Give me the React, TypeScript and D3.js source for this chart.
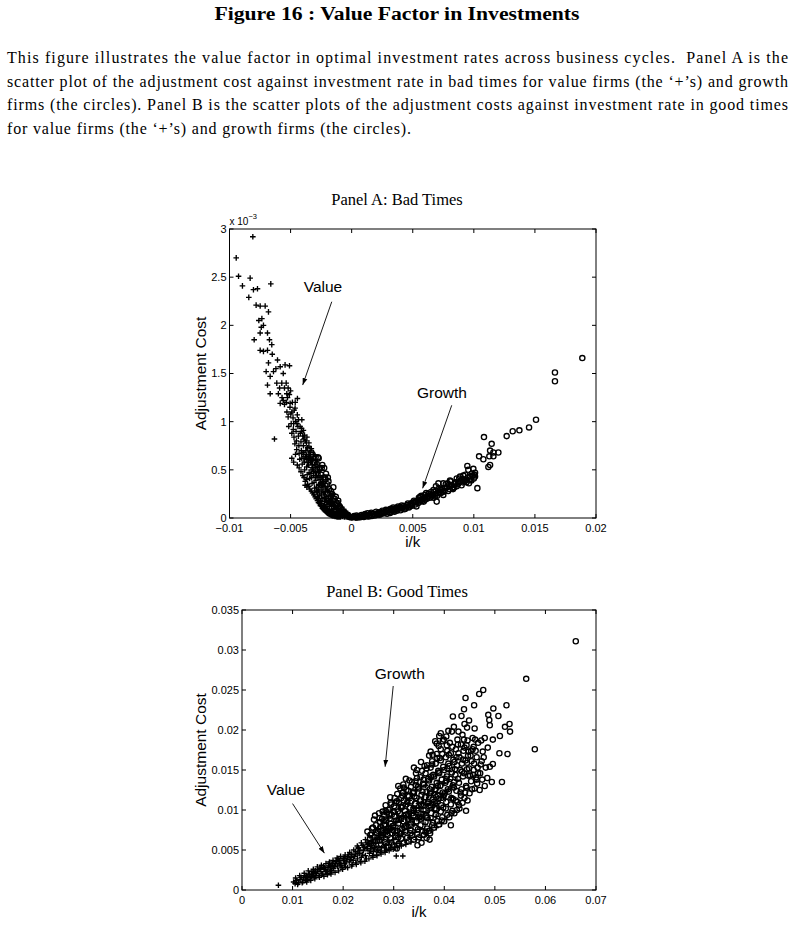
import * as d3 from 'd3';

type Pt = [number, number];

// Panel A (bad times): i/k and adjustment cost, both in units of 1e-3
const valueBad: Pt[] = [
  [-9.45, 2.7], [-8.09, 2.92], [-9.26, 2.51], [-8.94, 2.41], [-8.31, 2.49], [-8.04, 2.37], [-8.42, 2.29], [-7.71, 2.38],
  [-6.62, 2.43], [-7.82, 2.21], [-7.49, 2.2], [-7.08, 2.2], [-6.81, 2.14], [-7.35, 2.07], [-7.22, 2.0], [-7.49, 1.92],
  [-7.98, 1.85], [-6.89, 1.92], [-6.73, 1.85], [-6.54, 1.8], [-7.49, 1.74], [-7.22, 1.73], [-6.89, 1.74], [-6.81, 1.61],
  [-6.07, 1.64], [-5.85, 1.57], [-5.45, 1.59], [-5.09, 1.58], [-7.0, 1.52], [-6.67, 1.47], [-6.4, 1.52], [-6.89, 1.38],
  [-6.13, 1.4], [-5.72, 1.4], [-5.36, 1.4], [-6.67, 1.29], [-6.0, 1.29], [-5.31, 1.29], [-4.44, 1.24], [-5.85, 1.19],
  [-5.04, 1.19], [-6.32, 0.82], [-4.63, 1.14], [-4.08, 1.02], [-3.95, 0.91], [-3.81, 0.34], [-3.67, 0.32],
  [-7.6, 2.05], [-7.4, 1.98], [-6.5, 1.7], [-6.2, 1.55], [-5.6, 1.5], [-5.5, 1.35], [-5.2, 1.35], [-5.6, 1.22], [-5.3, 1.1],
  [-5.2, 1.05], [-5.15, 0.95], [-5.05, 1.15], [-4.98, 1.08], [-4.95, 0.98], [-4.9, 0.88], [-4.85, 1.2], [-4.8, 1.04],
  [-4.78, 0.92], [-4.72, 0.84], [-4.7, 1.12], [-4.65, 0.77], [-4.6, 1.0], [-4.55, 0.9], [-4.52, 0.8], [-4.5, 0.71],
  [-4.45, 1.07], [-4.4, 0.95], [-4.36, 0.85], [-4.32, 0.75], [-4.3, 0.67], [-4.25, 0.61], [-4.2, 0.88], [-4.15, 0.79],
  [-4.12, 0.7], [-4.08, 0.62], [-4.05, 0.56], [-4.0, 0.85], [-3.95, 0.75], [-3.92, 0.66], [-3.88, 0.58], [-3.85, 0.5],
  [-3.8, 0.8], [-3.75, 0.7], [-3.72, 0.61], [-3.68, 0.53], [-3.64, 0.45], [-3.6, 0.73], [-3.56, 0.64], [-3.52, 0.55],
  [-3.48, 0.47], [-3.44, 0.41], [-3.4, 0.68], [-3.36, 0.58], [-3.32, 0.5], [-3.28, 0.42], [-3.24, 0.36], [-3.2, 0.61],
  [-3.16, 0.52], [-3.12, 0.44], [-3.08, 0.37], [-3.04, 0.31], [-3.0, 0.55], [-2.96, 0.47], [-2.92, 0.39], [-2.88, 0.32],
  [-2.84, 0.27], [-2.8, 0.5], [-2.75, 0.42], [-2.7, 0.35], [-2.66, 0.28], [-2.62, 0.23], [-2.58, 0.44], [-2.54, 0.37],
  [-2.5, 0.3], [-2.46, 0.24], [-2.42, 0.2], [-2.38, 0.38], [-2.34, 0.32], [-2.3, 0.26], [-2.26, 0.21], [-2.22, 0.17],
  [-2.18, 0.33], [-2.14, 0.27], [-2.1, 0.22], [-2.06, 0.18], [-2.02, 0.14], [-1.98, 0.28], [-1.94, 0.23], [-1.9, 0.18],
  [-1.86, 0.15], [-1.82, 0.12], [-1.76, 0.24], [-1.72, 0.19], [-1.68, 0.15], [-1.64, 0.12], [-1.56, 0.2], [-1.52, 0.16],
  [-1.48, 0.12], [-1.44, 0.09], [-1.36, 0.16], [-1.32, 0.12], [-1.28, 0.09], [-1.24, 0.07], [-1.16, 0.12], [-1.12, 0.09],
  [-1.08, 0.07], [-1.04, 0.05], [-0.96, 0.09], [-0.92, 0.07], [-0.88, 0.05], [-0.84, 0.03], [-0.76, 0.07], [-0.72, 0.05],
  [-0.68, 0.03], [-0.56, 0.05], [-0.52, 0.03], [-0.48, 0.02], [-0.38, 0.03], [-0.34, 0.015], [-0.2, 0.015], [-0.16, 0.005],
  [0.0, 0.005],
  [-5.9, 1.35], [-5.7, 1.25], [-5.5, 1.18], [-5.35, 1.2], [-5.25, 1.25], [-5.1, 1.28], [-5.0, 1.32], [-4.9, 1.1],
  [-4.75, 0.98], [-4.62, 1.2], [-4.48, 0.98], [-4.35, 1.02], [-4.22, 0.95], [-4.1, 0.93], [-3.98, 0.68], [-3.86, 0.86],
  [-3.7, 0.78], [-3.58, 0.58], [-3.46, 0.62], [-3.34, 0.46], [-3.22, 0.55], [-3.1, 0.48], [-2.98, 0.42], [-2.86, 0.44],
  [-2.74, 0.3], [-2.6, 0.34], [-2.48, 0.26], [-2.36, 0.28], [-2.24, 0.24], [-2.12, 0.2], [-2.0, 0.16], [-1.88, 0.2],
  [-1.74, 0.14], [-1.62, 0.17], [-1.5, 0.1], [-1.38, 0.13], [-1.26, 0.1], [-1.14, 0.06], [-1.0, 0.07], [-0.9, 0.04],
  [-0.8, 0.06], [-0.64, 0.04], [-0.44, 0.035], [-0.28, 0.02], [-0.1, 0.008],
  [-4.9, 0.62], [-4.75, 0.58], [-4.6, 0.66], [-4.45, 0.55], [-4.3, 0.52], [-4.15, 0.48], [-4.0, 0.44], [-3.9, 0.42],
  [-3.8, 0.38], [-3.7, 0.4], [-3.6, 0.35], [-3.5, 0.33], [-3.42, 0.3], [-3.3, 0.28], [-3.2, 0.26], [-3.1, 0.24],
  [-3.0, 0.22], [-2.9, 0.2], [-2.8, 0.18], [-2.72, 0.16], [-2.64, 0.15], [-2.56, 0.13], [-2.48, 0.12], [-2.4, 0.1],
  [-2.32, 0.09], [-2.24, 0.08], [-2.16, 0.07], [-2.08, 0.06], [-2.0, 0.05], [-1.92, 0.045], [-1.84, 0.04], [-1.76, 0.035],
  [-1.68, 0.03], [-1.6, 0.025], [-1.52, 0.02], [-1.44, 0.02], [-1.36, 0.015], [-1.28, 0.015], [-1.2, 0.01], [-1.1, 0.01],
  [-1.0, 0.01], [-0.9, 0.012],
  [-2.9, 0.28], [-2.78, 0.24], [-2.68, 0.2], [-2.55, 0.18], [-2.44, 0.15], [-2.32, 0.13], [-2.2, 0.11], [-2.1, 0.1],
  [-1.96, 0.09], [-1.84, 0.08], [-1.72, 0.07], [-1.6, 0.06], [-1.48, 0.05], [-1.36, 0.045], [-1.24, 0.04], [-1.12, 0.03],
  [-1.0, 0.025], [-0.86, 0.02], [-0.74, 0.015], [-0.6, 0.012], [-0.46, 0.01], [-2.6, 0.4], [-2.45, 0.34], [-2.3, 0.36],
  [-2.15, 0.3], [-1.95, 0.33], [-1.8, 0.27], [-1.65, 0.23], [-1.5, 0.25], [-1.35, 0.2], [-1.2, 0.18], [-1.05, 0.15],
  [-0.95, 0.13], [-0.8, 0.11], [-0.65, 0.09], [-0.5, 0.07], [-0.35, 0.05], [-0.25, 0.035],
  [-4.1, 0.9], [-3.9, 0.82], [-3.66, 0.84], [-3.5, 0.78], [-3.3, 0.72], [-3.14, 0.66], [-2.98, 0.6], [-2.82, 0.56],
  [-2.68, 0.48],
];

const growthBad: Pt[] = [
  [-3.1, 0.58], [-2.95, 0.63], [-2.7, 0.62], [-2.25, 0.52], [-2.5, 0.45], [-2.8, 0.5], [-2.0, 0.35], [-1.85, 0.3],
  [-1.7, 0.28], [-1.4, 0.2], [-1.2, 0.15], [-1.0, 0.12], [-0.8, 0.08], [-0.6, 0.06], [-0.3, 0.03], [-3.3, 0.68],
  [-3.5, 0.72], [-2.4, 0.55],
  [-3.7, 0.6], [-3.4, 0.55], [-3.2, 0.66], [-3.0, 0.5], [-2.6, 0.52], [-2.3, 0.42], [-2.1, 0.46], [-1.9, 0.38],
  [-1.6, 0.25], [-1.5, 0.32], [-1.3, 0.22], [-1.1, 0.18], [-0.9, 0.1], [-0.5, 0.04], [-0.2, 0.01],
  [-3.9, 0.66], [-3.6, 0.63], [-3.35, 0.6], [-2.85, 0.56], [-2.76, 0.63], [-2.45, 0.52], [-2.18, 0.42], [-2.15, 0.4],
  [-1.95, 0.42],
  [0.0, 0.005], [0.3, 0.01], [0.6, 0.015], [0.5, 0.005], [0.9, 0.02], [1.0, 0.01], [1.2, 0.03], [1.5, 0.035],
  [1.4, 0.015], [1.8, 0.04], [1.9, 0.025], [2.1, 0.05], [2.4, 0.055], [2.3, 0.035], [2.7, 0.06], [2.9, 0.045],
  [3.0, 0.07], [3.3, 0.08], [3.5, 0.065], [3.6, 0.09], [3.9, 0.1], [4.0, 0.08], [4.2, 0.11], [4.5, 0.12],
  [4.4, 0.095], [4.8, 0.13], [4.6, 0.15], [5.0, 0.16], [5.2, 0.14], [5.4, 0.18], [5.6, 0.17], [5.8, 0.2],
  [5.5, 0.21], [6.0, 0.19], [6.2, 0.22], [6.4, 0.21], [6.6, 0.24], [6.5, 0.27], [6.8, 0.25], [7.0, 0.23],
  [7.2, 0.27], [7.4, 0.3], [7.3, 0.26], [7.6, 0.28], [7.8, 0.32], [8.0, 0.3], [8.2, 0.34], [8.4, 0.32],
  [8.5, 0.37], [8.7, 0.35], [8.9, 0.38], [9.0, 0.34], [9.2, 0.4], [9.4, 0.37], [9.5, 0.42], [9.7, 0.4],
  [9.9, 0.44], [10.0, 0.41], [10.1, 0.47], [9.3, 0.45], [8.8, 0.41], [8.1, 0.38], [7.7, 0.35], [6.9, 0.33],
  [5.7, 0.23], [6.3, 0.25],
  [0.2, 0.02], [0.8, 0.03], [1.1, 0.04], [1.6, 0.055], [2.0, 0.065], [2.2, 0.04], [2.5, 0.075], [2.8, 0.085],
  [3.1, 0.06], [3.2, 0.095], [3.4, 0.11], [3.7, 0.075], [3.8, 0.12], [4.1, 0.13], [4.3, 0.09], [4.7, 0.11],
  [4.9, 0.14], [5.1, 0.18], [5.3, 0.12], [5.9, 0.17], [6.1, 0.26], [6.7, 0.21], [7.1, 0.3], [7.5, 0.24],
  [7.9, 0.28], [8.3, 0.3], [8.6, 0.33], [9.1, 0.37], [9.6, 0.36], [9.8, 0.39], [10.05, 0.45], [1.3, 0.05], [0.4, 0.025],
  [0.1, 0.01], [0.35, 0.004], [0.7, 0.008], [0.85, 0.012], [1.05, 0.025], [1.25, 0.018], [1.45, 0.028], [1.65, 0.022],
  [1.7, 0.045], [2.05, 0.035], [2.25, 0.06], [2.45, 0.045], [2.6, 0.068], [2.65, 0.05], [2.85, 0.072], [3.05, 0.085],
  [3.15, 0.052], [3.35, 0.095], [3.45, 0.075], [3.65, 0.105], [3.75, 0.088], [3.95, 0.115], [4.05, 0.1], [4.25, 0.125],
  [4.35, 0.108], [4.55, 0.135], [4.65, 0.118], [4.85, 0.15], [4.95, 0.128], [5.15, 0.16], [5.25, 0.17], [5.45, 0.155],
  [5.65, 0.19], [5.75, 0.175], [5.95, 0.21], [6.15, 0.2], [6.35, 0.23], [6.55, 0.22], [6.75, 0.27], [6.85, 0.23],
  [7.05, 0.26], [7.25, 0.29], [7.45, 0.27], [7.65, 0.31], [7.95, 0.34], [8.25, 0.31], [8.45, 0.35], [8.75, 0.37],
  [9.05, 0.4], [9.35, 0.39],
  [18.88, 1.66], [16.64, 1.51], [16.64, 1.42], [15.09, 1.02], [14.52, 0.94], [13.73, 0.91], [13.18, 0.9], [12.69, 0.85],
  [12.01, 0.68], [11.46, 0.77], [11.33, 0.7], [11.27, 0.64], [11.6, 0.64], [11.19, 0.53], [11.33, 0.55], [10.83, 0.84],
  [10.43, 0.64], [10.78, 0.61], [10.29, 0.31], [11.6, 0.68], [9.96, 0.51], [9.47, 0.54], [9.55, 0.5], [9.83, 0.46],
  [10.1, 0.43], [9.69, 0.43], [9.14, 0.44], [8.87, 0.43], [8.6, 0.41], [7.86, 0.36], [8.05, 0.39], [7.1, 0.36],
  [7.5, 0.36], [6.96, 0.17], [6.69, 0.29], [6.28, 0.25], [6.0, 0.24], [5.6, 0.22],
];

// Panel B (good times): i/k and adjustment cost in units of 1e-3
const valueGood: Pt[] = [
  [7.2, 0.6], [10.2, 1.0], [10.5, 0.8], [10.8, 1.2], [11.2, 0.9], [12.0, 1.0], [11.5, 1.3], [12.2, 1.5], [12.6, 1.2],
  [13.0, 1.6], [13.5, 1.4], [13.8, 2.3], [14.0, 1.9], [14.3, 1.6], [14.8, 2.1], [15.0, 2.6], [15.2, 1.8], [15.6, 2.3],
  [16.0, 2.0], [16.3, 2.6], [16.7, 2.3], [17.0, 2.8], [17.2, 3.3], [17.4, 2.5], [17.8, 3.1], [18.1, 2.7], [18.5, 3.3],
  [18.9, 2.9], [19.0, 3.9], [19.2, 3.5], [19.6, 3.1], [20.0, 3.7], [20.3, 3.3], [20.5, 2.9], [20.8, 3.9], [21.0, 4.4],
  [21.2, 3.5], [21.6, 4.1], [22.0, 3.7], [22.4, 4.4], [22.5, 3.4], [22.8, 3.9], [23.0, 5.2], [23.2, 4.6], [23.6, 4.1],
  [24.0, 4.9], [24.4, 4.3], [24.6, 3.9], [24.8, 5.2], [25.0, 5.8], [25.2, 4.6], [25.6, 5.5], [26.0, 4.8], [26.4, 5.9],
  [26.6, 4.4], [26.8, 5.0], [27.0, 6.9], [27.2, 6.3], [27.6, 5.3], [28.0, 6.8], [28.4, 5.6], [28.6, 5.0], [28.8, 7.2],
  [29.0, 8.0], [29.2, 6.0], [29.6, 7.6], [30.0, 6.3], [30.5, 4.25], [31.8, 4.25], [30.4, 8.1], [31.0, 6.8], [31.5, 8.6],
  [32.0, 7.2], [32.5, 9.1], [33.0, 7.7], [33.5, 9.6], [34.0, 8.2], [34.5, 10.2], [35.0, 8.8], [35.5, 10.8], [36.0, 9.4],
  [36.5, 11.3], [37.0, 10.0], [37.5, 11.8], [38.0, 10.6], [38.6, 12.2], [39.2, 11.2],
  [11.7, 1.6], [12.4, 1.8], [12.9, 1.3], [13.3, 2.0], [13.7, 1.7], [14.5, 2.4], [14.6, 1.8], [15.4, 2.7], [15.8, 2.0],
  [16.1, 2.9], [16.5, 2.5], [16.9, 2.1], [17.5, 2.9], [17.7, 2.4], [18.3, 3.0], [18.7, 3.6], [19.4, 3.3], [19.8, 2.8],
  [20.2, 4.0], [20.6, 3.5], [21.4, 3.8], [21.8, 3.2], [22.2, 4.2], [22.9, 4.6], [23.4, 3.6], [23.8, 4.4], [24.2, 5.3],
  [25.4, 5.0], [25.8, 4.3], [26.2, 5.3], [27.4, 4.7], [27.8, 5.9], [28.2, 4.9], [29.4, 5.3], [29.8, 6.8], [30.2, 5.4],
  [30.8, 7.5], [31.2, 5.8], [31.6, 7.0], [32.2, 6.2], [32.8, 8.2], [33.2, 6.6], [33.8, 8.8], [34.2, 7.2], [34.8, 9.4],
  [35.2, 7.6], [35.8, 9.8], [36.2, 8.2], [36.8, 10.6], [37.2, 8.8], [37.8, 11.0], [38.4, 9.2], [39.0, 10.2], [39.6, 12.0],
  [40.2, 11.4], [40.8, 12.6], [41.4, 11.6],
  [10.6, 1.5], [11.0, 0.7], [11.4, 1.8], [11.9, 0.9], [12.3, 2.1], [12.8, 1.0], [13.1, 2.4], [13.6, 1.2], [14.1, 2.6],
  [14.4, 1.4], [14.9, 2.9], [15.3, 1.6], [15.7, 3.1], [16.2, 1.7], [16.6, 3.3], [16.9, 1.9], [17.3, 3.5], [17.6, 2.0],
  [18.0, 3.7], [18.4, 2.2], [18.8, 4.0], [19.1, 2.4], [19.5, 4.2], [19.9, 2.6], [20.4, 4.4], [20.9, 2.8], [21.3, 4.7],
  [21.7, 3.0], [22.1, 5.0], [22.6, 3.2], [23.0, 5.3], [23.5, 3.4], [23.9, 5.6], [24.3, 3.6], [24.7, 5.9], [25.1, 3.9],
  [25.5, 6.2], [25.9, 4.1], [26.3, 6.5], [26.7, 4.3], [27.1, 6.8], [27.5, 4.5], [27.9, 7.2], [28.3, 4.7], [28.7, 7.6],
  [29.1, 4.9], [29.5, 8.0], [29.9, 5.1], [30.3, 8.5], [30.7, 5.3], [31.1, 8.9], [31.5, 5.5], [31.9, 9.3], [32.4, 5.7],
  [32.9, 9.8], [33.4, 6.0], [33.9, 10.3], [34.4, 6.3], [34.9, 10.8], [35.4, 6.6], [35.9, 11.3], [36.4, 7.0], [36.9, 11.8],
  [37.4, 7.4], [37.9, 12.3], [38.4, 7.8], [38.9, 12.8], [39.4, 8.3], [39.9, 13.3], [40.4, 8.8], [40.9, 13.8],
  [12.7, 1.7], [13.4, 1.9], [14.2, 2.2], [14.9, 2.4], [15.6, 2.6], [16.3, 2.8], [17.1, 3.0], [17.9, 3.3], [18.6, 3.5],
  [19.3, 3.7], [20.1, 3.9], [20.9, 4.2], [21.7, 4.5], [22.5, 4.8], [23.3, 5.0], [24.1, 5.4], [24.9, 5.7], [25.7, 6.0],
  [26.5, 6.3], [27.3, 6.6], [28.1, 7.0], [28.9, 7.4],
  [29.0, 9.0], [29.7, 10.0], [30.3, 7.2], [30.6, 9.5], [31.3, 10.2], [31.8, 7.9], [32.3, 10.8], [32.6, 8.4], [33.1, 11.2],
  [33.4, 9.0], [33.7, 11.8], [34.0, 9.7], [34.3, 12.4], [34.6, 8.9], [35.0, 10.3], [35.3, 12.9], [35.6, 9.0], [35.9, 10.9],
  [36.3, 13.1], [36.6, 9.7], [36.9, 12.0], [37.3, 13.8], [37.6, 10.3], [38.0, 12.8], [38.3, 14.4], [38.7, 10.8], [39.0, 13.5],
  [39.4, 15.0], [39.8, 11.6], [40.1, 14.2], [40.5, 12.3], [41.0, 14.8], [41.5, 13.0], [42.0, 15.3], [42.5, 13.7], [26.8, 7.6],
  [27.4, 8.0], [28.0, 7.8], [28.6, 8.4], [25.2, 6.8], [26.0, 7.2], [24.4, 6.3], [23.6, 5.9], [22.8, 5.5],
];

const growthGood: Pt[] = [
  [25.0, 5.2], [25.3, 6.4], [24.8, 7.3], [25.7, 7.7], [26.0, 5.5], [26.2, 6.6], [25.9, 7.8], [26.1, 8.8],
  [27.0, 5.2], [27.2, 6.2], [26.9, 7.4], [27.3, 8.5], [27.8, 9.8], [28.0, 5.0], [28.2, 6.0], [27.9, 7.1],
  [28.3, 8.2], [28.1, 9.4], [29.0, 5.4], [29.3, 6.5], [28.8, 7.7], [29.2, 8.9], [29.0, 10.0], [30.0, 5.6],
  [30.3, 6.8], [29.8, 8.0], [30.2, 9.2], [30.1, 10.5], [30.2, 11.5], [31.0, 5.8], [31.3, 7.0], [30.9, 8.3],
  [31.2, 9.6], [31.0, 10.9], [31.3, 12.7], [32.0, 12.8], [32.0, 5.9], [32.3, 7.3], [31.9, 8.6], [32.2, 9.9],
  [32.0, 11.2], [32.5, 12.5], [33.0, 6.1], [33.3, 7.5], [32.9, 8.9], [33.2, 10.3], [33.0, 11.7], [33.4, 12.9],
  [34.0, 6.3], [34.3, 7.8], [33.9, 9.3], [34.2, 10.8], [34.0, 12.2], [34.3, 13.6], [34.4, 14.6], [35.0, 6.6],
  [35.3, 8.1], [34.9, 9.6], [35.2, 11.2], [35.0, 12.7], [35.3, 14.1], [34.7, 5.6], [36.0, 6.9], [36.3, 8.5],
  [35.9, 10.0], [36.2, 11.6], [36.0, 13.2], [36.3, 14.6], [36.5, 15.2], [37.1, 6.3], [37.0, 7.4], [37.3, 9.0],
  [36.9, 10.5], [37.2, 12.1], [37.0, 13.7], [37.3, 15.3], [37.3, 17.3], [38.0, 7.8], [38.3, 9.4], [37.9, 11.0],
  [38.2, 12.6], [38.0, 14.2], [38.3, 15.8], [38.5, 17.0], [39.0, 8.2], [39.3, 9.8], [38.9, 11.4], [39.2, 13.0],
  [39.0, 14.6], [39.3, 16.2], [38.9, 18.0], [39.3, 19.6], [39.0, 19.25], [40.0, 8.6], [40.3, 10.2], [39.9, 11.8],
  [40.2, 13.4], [40.0, 15.0], [40.3, 16.6], [40.5, 18.1], [41.0, 9.1], [41.3, 10.7], [40.9, 12.3], [41.2, 13.9],
  [41.0, 15.5], [41.3, 17.1], [41.3, 8.1], [41.7, 21.7], [42.0, 9.6], [42.3, 11.2], [41.9, 12.8], [42.2, 14.4],
  [42.0, 16.0], [42.3, 17.6], [42.5, 10.0], [43.0, 10.2], [43.3, 11.8], [42.9, 13.4], [43.2, 15.0], [43.0, 16.6],
  [43.3, 18.2], [43.4, 21.75], [44.0, 11.5], [44.3, 13.0], [43.9, 14.6], [44.2, 16.2], [44.0, 17.8], [44.3, 9.9],
  [44.2, 24.0], [44.0, 20.75], [44.4, 18.1], [45.0, 12.1], [45.3, 13.6], [44.9, 15.2], [45.2, 16.8], [45.6, 19.0],
  [46.0, 12.7], [46.3, 14.1], [45.9, 15.8], [46.2, 17.4], [45.9, 23.1], [45.8, 17.9], [46.9, 24.5], [47.0, 12.5],
  [47.1, 14.6], [47.7, 25.0], [48.0, 13.0], [48.2, 15.3], [48.0, 19.0], [46.7, 14.6],
  [25.5, 5.8], [25.4, 6.9], [26.6, 5.1], [26.4, 6.1], [26.7, 7.1], [26.5, 8.1], [27.5, 5.7], [27.6, 6.6],
  [27.4, 7.9], [27.7, 8.9], [28.6, 5.3], [28.4, 6.4], [28.7, 7.4], [28.5, 8.7], [28.6, 9.7], [29.5, 5.9],
  [29.7, 7.1], [29.4, 8.3], [29.6, 9.4], [29.5, 10.7], [30.6, 5.2], [30.4, 6.1], [30.7, 7.4], [30.5, 8.7],
  [30.8, 9.8], [30.6, 11.1], [31.5, 6.4], [31.7, 7.7], [31.4, 8.9], [31.6, 10.3], [31.5, 11.5], [31.8, 12.2],
  [32.6, 6.5], [32.4, 8.0], [32.7, 9.2], [32.5, 10.7], [32.8, 11.8], [33.6, 6.8], [33.4, 8.3], [33.7, 9.6],
  [33.5, 11.1], [33.8, 12.2], [33.6, 13.5], [34.6, 7.0], [34.5, 8.6], [34.7, 10.0], [34.5, 11.5], [34.8, 12.9],
  [34.6, 14.0], [35.6, 7.4], [35.4, 8.9], [35.7, 10.5], [35.5, 11.9], [35.8, 13.3], [35.6, 14.9], [35.5, 5.9],
  [36.6, 7.7], [36.4, 9.3], [36.7, 10.8], [36.5, 12.3], [36.8, 13.9], [36.6, 15.6], [36.5, 6.5], [37.6, 8.1],
  [37.4, 9.6], [37.7, 11.3], [37.5, 12.9], [37.8, 14.4], [37.6, 16.1], [37.7, 16.9], [38.6, 8.6], [38.4, 10.1],
  [38.7, 11.8], [38.5, 13.4], [38.8, 14.9], [38.6, 16.5], [38.5, 18.3], [39.6, 9.1], [39.4, 10.6], [39.7, 12.2],
  [39.5, 13.8], [39.8, 15.4], [39.6, 17.0], [39.7, 18.6], [40.6, 9.4], [40.4, 11.0], [40.7, 12.6], [40.5, 14.2],
  [40.8, 15.8], [40.6, 17.4], [40.4, 19.2], [41.6, 9.9], [41.4, 11.5], [41.7, 13.1], [41.5, 14.7], [41.8, 16.3],
  [41.6, 17.9], [41.5, 19.8], [42.6, 11.0], [42.4, 12.4], [42.7, 13.9], [42.5, 15.6], [42.8, 17.1], [42.6, 18.8],
  [43.6, 10.9], [43.4, 12.6], [43.7, 14.2], [43.5, 15.8], [43.8, 17.4], [43.6, 19.4], [44.6, 11.2], [44.4, 12.8],
  [44.7, 14.3], [44.5, 15.9], [44.8, 17.3], [44.6, 18.7], [44.5, 20.3], [45.5, 12.6], [45.7, 14.4], [45.4, 16.1],
  [45.6, 17.6], [46.5, 13.3], [46.6, 15.3], [46.4, 16.6], [46.7, 18.4], [47.5, 13.8], [47.4, 16.1], [47.6, 17.3],
  [27.2, 9.0], [27.6, 7.4], [28.0, 8.6], [28.4, 9.9], [28.8, 6.8], [29.1, 9.5], [29.4, 10.9], [29.8, 7.5],
  [30.0, 9.8], [30.4, 10.9], [30.7, 12.0], [30.9, 6.6], [31.1, 8.8], [31.4, 10.4], [31.7, 11.8], [31.9, 13.2],
  [32.1, 7.8], [32.4, 9.4], [32.7, 11.0], [32.9, 12.4], [33.1, 13.7], [33.3, 7.1], [33.6, 8.7], [33.9, 10.2],
  [34.1, 11.7], [34.4, 13.1], [34.6, 15.0], [34.8, 7.6], [35.1, 9.2], [35.4, 10.7], [35.7, 12.3], [35.9, 13.8],
  [36.1, 15.5], [36.3, 7.3], [36.6, 9.0], [36.8, 11.0], [37.1, 12.6], [37.4, 14.2], [37.6, 15.7], [37.8, 8.4],
  [38.1, 10.2], [38.4, 11.6], [38.7, 13.0], [38.9, 14.7], [39.1, 16.5], [39.3, 17.6], [39.5, 8.7], [39.8, 10.3],
  [40.1, 12.1], [40.4, 13.7], [40.6, 15.2], [40.9, 16.9], [41.1, 18.4], [41.4, 9.6], [41.7, 11.4], [41.9, 13.5],
  [42.1, 15.1], [42.4, 16.6], [42.7, 18.2], [42.9, 10.6], [43.2, 12.2], [43.5, 14.8], [43.7, 16.3], [43.9, 18.8],
  [44.1, 12.2], [44.5, 15.1], [44.7, 16.8], [45.1, 14.3], [45.3, 17.4], [45.8, 15.0], [46.1, 18.8], [46.4, 13.8],
  [47.2, 15.7], [47.8, 16.6], [48.5, 14.0], [48.6, 17.8], [47.3, 18.7], [46.0, 20.2], [44.9, 21.2], [43.9, 22.6],
  [42.8, 19.8], [41.9, 20.4], [40.8, 19.9], [39.9, 18.8], [38.2, 18.6], [37.0, 16.8], [35.4, 16.0], [34.0, 15.3],
  [32.4, 13.9], [30.9, 13.0], [29.3, 11.6], [28.4, 10.6], [27.1, 9.6], [26.3, 9.3], [37.2, 7.1],
  [66.0, 31.1], [56.2, 26.4], [57.9, 17.6], [51.4, 13.5], [49.4, 13.5], [49.6, 15.75], [49.0, 15.4], [50.9, 17.1],
  [52.5, 17.0], [53.0, 19.8], [52.9, 20.75], [52.0, 20.4], [52.3, 23.1], [49.7, 22.7], [50.7, 21.75], [51.0, 19.25],
  [48.7, 21.9], [48.9, 21.25], [49.0, 20.6], [49.6, 18.8],
];

const badXTicks = [-10, -5, 0, 5, 10, 15, 20];
const badXLabels = ['\u22120.01', '\u22120.005', '0', '0.005', '0.01', '0.015', '0.02'];
const badYTicks = [0, 0.5, 1, 1.5, 2, 2.5, 3];
const badYLabels = ['0', '0.5', '1', '1.5', '2', '2.5', '3'];
const goodXTicks = [0, 10, 20, 30, 40, 50, 60, 70];
const goodXLabels = ['0', '0.01', '0.02', '0.03', '0.04', '0.05', '0.06', '0.07'];
const goodYTicks = [0, 5, 10, 15, 20, 25, 30, 35];
const goodYLabels = ['0', '0.005', '0.01', '0.015', '0.02', '0.025', '0.03', '0.035'];

// label text, label centre, arrow start, arrow tip (data units)
type Note = { text: string; at: Pt; from: Pt; to: Pt };
const badNotes: Note[] = [
  { text: 'Value', at: [-2.35, 2.4], from: [-1.63, 2.245], to: [-4.01, 1.38] },
  { text: 'Growth', at: [7.39, 1.3], from: [8.19, 1.17], to: [5.81, 0.308] },
];
const goodNotes: Note[] = [
  { text: 'Growth', at: [31.2, 27.0], from: [29.9, 25.5], to: [28.3, 15.4] },
  { text: 'Value', at: [8.7, 12.6], from: [10.0, 10.8], to: [16.3, 4.6] },
];

const caption = [
  'This figure illustrates the value factor in optimal investment rates across business cycles.  Panel A is the',
  'scatter plot of the adjustment cost against investment rate in bad times for value firms (the \u2018+\u2019s) and growth',
  'firms (the circles). Panel B is the scatter plots of the adjustment costs against investment rate in good times',
  'for value firms (the \u2018+\u2019s) and growth firms (the circles).',
];

const SANS = '"Liberation Sans", Arial, Helvetica, sans-serif';
const SERIF = '"Liberation Serif", "Times New Roman", serif';

type PanelProps = {
  box: { left: number; right: number; top: number; bottom: number };
  xDomain: [number, number];
  yDomain: [number, number];
  xTicks: number[];
  xLabels: string[];
  yTicks: number[];
  yLabels: string[];
  plus: Pt[];
  circles: Pt[];
  notes: Note[];
  title: string;
  titleY: number;
  xLabelY: number;
  xTickY: number;
  exponent?: boolean;
};

function Panel(p: PanelProps) {
  const { left, right, top, bottom } = p.box;
  const x = d3.scaleLinear().domain(p.xDomain).range([left, right]);
  const y = d3.scaleLinear().domain(p.yDomain).range([bottom, top]);
  const tk = 4;
  const ps = 2.8;
  const plusPath = p.plus
    .map(([a, b]) => {
      const px = x(a), py = y(b);
      return `M${px - ps},${py}H${px + ps}M${px},${py - ps}V${py + ps}`;
    })
    .join('');
  const midY = (top + bottom) / 2;
  return (
    <g>
      <text x={397} y={p.titleY} textAnchor="middle" fontFamily={SERIF} fontSize={16.5}>
        {p.title}
      </text>
      <g stroke="#000" strokeWidth={1.35} fill="none">
        {p.circles.map(([a, b], i) => (
          <circle key={i} cx={x(a)} cy={y(b)} r={2.6} />
        ))}
        <path d={plusPath} />
      </g>
      <rect x={left} y={top} width={right - left} height={bottom - top} fill="none" stroke="#000" strokeWidth={1} />
      <g stroke="#000" strokeWidth={1}>
        {p.xTicks.map((t) => (
          <g key={`x${t}`}>
            <line x1={x(t)} x2={x(t)} y1={bottom} y2={bottom - tk} />
            <line x1={x(t)} x2={x(t)} y1={top} y2={top + tk} />
          </g>
        ))}
        {p.yTicks.map((t) => (
          <g key={`y${t}`}>
            <line x1={left} x2={left + tk} y1={y(t)} y2={y(t)} />
            <line x1={right} x2={right - tk} y1={y(t)} y2={y(t)} />
          </g>
        ))}
      </g>
      <g fontFamily={SANS} fontSize={11} fill="#000">
        {p.xTicks.map((t, i) => (
          <text key={`xl${t}`} x={x(t)} y={p.xTickY} textAnchor="middle">
            {p.xLabels[i]}
          </text>
        ))}
        {p.yTicks.map((t, i) => (
          <text key={`yl${t}`} x={left - 3} y={y(t)} dy="0.35em" textAnchor="end">
            {p.yLabels[i]}
          </text>
        ))}
      </g>
      {p.exponent && (
        <text x={left} y={top - 4} fontFamily={SANS} fontSize={10}>
          x 10
          <tspan fontSize={7.5} dy={-6}>
            {'\u22123'}
          </tspan>
        </text>
      )}
      <text x={(left + right) / 2} y={p.xLabelY} textAnchor="middle" fontFamily={SANS} fontSize={15}>
        i/k
      </text>
      <text
        transform={`translate(206,${midY}) rotate(-90)`}
        textAnchor="middle"
        fontFamily={SANS}
        fontSize={15.5}
      >
        Adjustment Cost
      </text>
      {p.notes.map((n) => (
        <g key={n.text}>
          <text x={x(n.at[0])} y={y(n.at[1])} dy="0.35em" textAnchor="middle" fontFamily={SANS} fontSize={15.5}>
            {n.text}
          </text>
          <line
            x1={x(n.from[0])}
            y1={y(n.from[1])}
            x2={x(n.to[0])}
            y2={y(n.to[1])}
            stroke="#000"
            strokeWidth={0.9}
            markerEnd="url(#head)"
          />
        </g>
      ))}
    </g>
  );
}

export default function App() {
  return (
    <svg
      width={796}
      height={926}
      viewBox="0 0 796 926"
      style={{ position: 'absolute', left: 0, top: 0, background: '#fff' }}
    >
      <defs>
        <marker id="head" viewBox="0 0 10 10" refX={10} refY={5} markerWidth={7} markerHeight={7} orient="auto" markerUnits="userSpaceOnUse">
          <path d="M0,1.5L10,5L0,8.5Z" fill="#000" />
        </marker>
      </defs>
      <rect width={796} height={926} fill="#fff" />
      <text x={397} y={20} textAnchor="middle" fontFamily={SERIF} fontWeight="bold" fontSize={18} textLength={365} lengthAdjust="spacingAndGlyphs">
        Figure 16 : Value Factor in Investments
      </text>
      <g fontFamily={SERIF} fontSize={16}>
        {caption.map((line, i) => (
          <text
            key={i}
            x={7}
            y={63 + i * 23.7}
            textLength={i === caption.length - 1 ? 404 : 781}
            lengthAdjust="spacing"
            style={{ whiteSpace: 'pre' }}
          >
            {line}
          </text>
        ))}
      </g>
      <Panel
        box={{ left: 229.5, right: 596, top: 229, bottom: 518 }}
        xDomain={[-10, 20]}
        yDomain={[0, 3]}
        xTicks={badXTicks}
        xLabels={badXLabels}
        yTicks={badYTicks}
        yLabels={badYLabels}
        plus={valueBad}
        circles={growthBad}
        notes={badNotes}
        title="Panel A: Bad Times"
        titleY={205}
        xLabelY={547}
        xTickY={532}
        exponent
      />
      <Panel
        box={{ left: 242, right: 596, top: 610, bottom: 890 }}
        xDomain={[0, 70]}
        yDomain={[0, 35]}
        xTicks={goodXTicks}
        xLabels={goodXLabels}
        yTicks={goodYTicks}
        yLabels={goodYLabels}
        plus={valueGood}
        circles={growthGood}
        notes={goodNotes}
        title="Panel B: Good Times"
        titleY={597}
        xLabelY={917}
        xTickY={904}
      />
    </svg>
  );
}
